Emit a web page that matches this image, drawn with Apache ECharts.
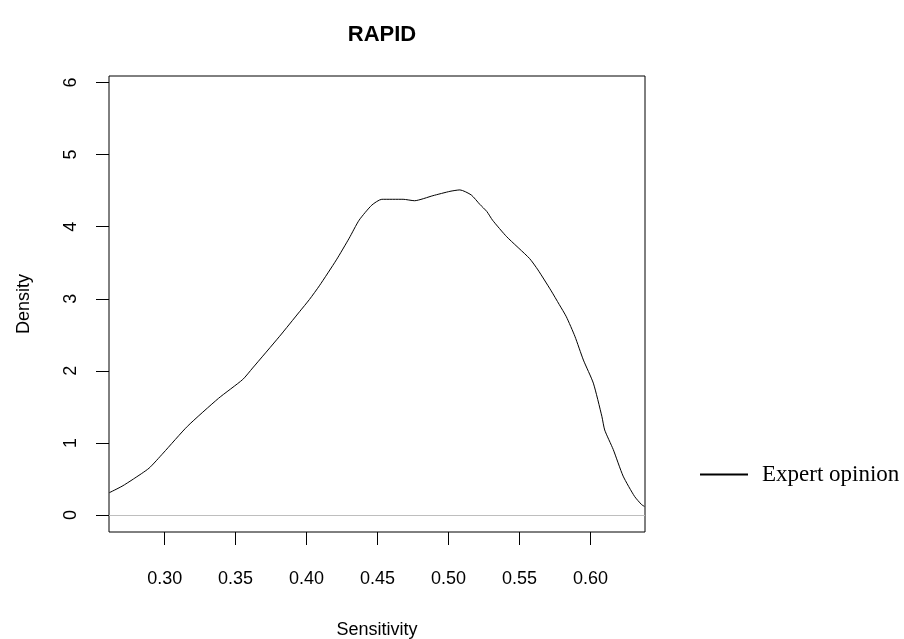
<!DOCTYPE html>
<html>
<head>
<meta charset="utf-8">
<script src="https://cdn.jsdelivr.net/npm/echarts@6/dist/echarts.min.js"></script>
<style>
  html, body { margin: 0; padding: 0; background: #fff; }
  #chart { width: 904px; height: 639px; }
</style>
</head>
<body>
<div id="chart"></div>
<script>
// density curve
const sensitivity = [0.261, 0.270, 0.278, 0.289, 0.299, 0.316, 0.338, 0.355, 0.362, 0.381, 0.395, 0.402, 0.409,
  0.421, 0.430, 0.437, 0.446, 0.453, 0.468, 0.476, 0.489, 0.501, 0.508, 0.516, 0.522, 0.527, 0.531,
  0.541, 0.557, 0.563, 0.572, 0.578, 0.583, 0.589, 0.595, 0.602, 0.608, 0.610, 0.616, 0.623, 0.631,
  0.636, 0.638]
const density = [0.31, 0.40, 0.50, 0.65, 0.86, 1.23, 1.62, 1.88, 2.04, 2.48, 2.82, 2.99, 3.18,
  3.54, 3.84, 4.09, 4.30, 4.38, 4.38, 4.36, 4.43, 4.49, 4.51, 4.44, 4.31, 4.21, 4.09,
  3.86, 3.56, 3.40, 3.12, 2.92, 2.75, 2.48, 2.15, 1.83, 1.37, 1.18, 0.91, 0.54, 0.26,
  0.145, 0.12]
const xTicks = [0.30, 0.35, 0.40, 0.45, 0.50, 0.55, 0.60]
const yTicks = [0, 1, 2, 3, 4, 5, 6]

const FONT = 'Liberation Sans, Arial, sans-serif'
const chart = echarts.init(document.getElementById('chart'), null, { renderer: 'canvas' })

chart.setOption({
  animation: false,
  title: {
    text: 'RAPID', left: 377, top: 19, textAlign: 'center',
    textStyle: { fontFamily: FONT, fontSize: 22, fontWeight: 'bold', color: '#000' }
  },
  legend: {
    left: 700, top: 463, padding: 0,
    icon: 'path://M0 0H48V2H0Z', itemWidth: 48, itemHeight: 2,
    textStyle: { fontFamily: 'Liberation Serif, Times New Roman, serif', fontSize: 23, color: '#000', padding: [0, 0, 0, 9] },
    data: ['Expert opinion']
  },
  grid: {
    left: 109, top: 76, width: 536, height: 456, outerBoundsMode: 'none',
    show: true, borderColor: '#000', borderWidth: 1, backgroundColor: '#fff'
  },
  xAxis: {
    type: 'value', min: 0.2608, max: 0.6384,
    name: 'Sensitivity', nameLocation: 'middle', nameGap: 89,
    nameTextStyle: { fontFamily: FONT, fontSize: 18, color: '#000' },
    axisLine: { show: false, onZero: false },
    axisTick: { show: true, length: 13, customValues: xTicks, lineStyle: { color: '#000' } },
    axisLabel: {
      customValues: xTicks, margin: 38, fontFamily: FONT, fontSize: 18, color: '#000',
      formatter: v => v.toFixed(2)
    },
    splitLine: { show: false }
  },
  yAxis: {
    type: 'value', min: -0.235, max: 6.09,
    name: 'Density', nameLocation: 'middle', nameGap: 76,
    nameTextStyle: { fontFamily: FONT, fontSize: 18, color: '#000' },
    axisLine: { show: false, onZero: false },
    axisTick: { show: true, length: 13, customValues: yTicks, lineStyle: { color: '#000' } },
    axisLabel: {
      customValues: yTicks, rotate: 90, margin: 29, fontFamily: FONT, fontSize: 18, color: '#000'
    },
    splitLine: { show: false }
  },
  series: [{
    name: 'Expert opinion', type: 'line',
    data: sensitivity.map((x, i) => [x, density[i]]),
    showSymbol: false, smooth: 0.2,
    lineStyle: { color: '#000', width: 1 },
    itemStyle: { color: '#000' },
    markLine: {
      silent: true, symbol: 'none', label: { show: false },
      lineStyle: { color: '#bebebe', width: 1, type: 'solid' },
      data: [{ yAxis: 0 }]
    }
  }]
})
</script>
</body>
</html>
